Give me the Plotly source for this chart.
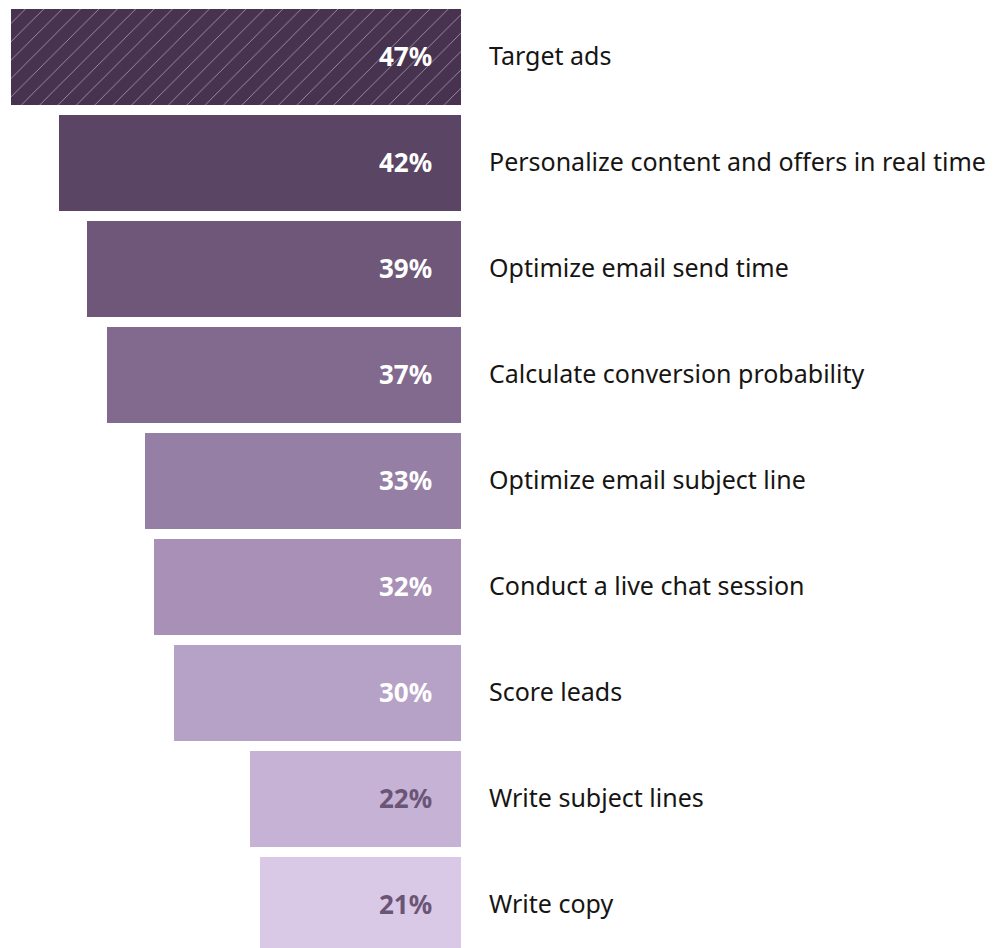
import plotly.graph_objects as go

categories = ["Target ads", "Personalize content and offers in real time",
              "Optimize email send time", "Calculate conversion probability",
              "Optimize email subject line", "Conduct a live chat session",
              "Score leads", "Write subject lines", "Write copy"]
values = [47, 42, 39, 37, 33, 32, 30, 22, 21]
value_labels = ["47%", "42%", "39%", "37%", "33%", "32%", "30%", "22%", "21%"]

bar_colors = ["#47324f", "#5b4565", "#6e5779", "#826a8f", "#967fa5",
              "#a890b6", "#b7a2c7", "#c6b2d5", "#dac9e6"]
label_colors = ["#ffffff"] * 7 + ["#6b5577", "#6b5577"]

ypos = list(range(len(categories)))

fig = go.Figure()
fig.add_trace(go.Bar(
    x=values, y=ypos, orientation="h", width=0.905,
    marker=dict(color=bar_colors, line=dict(width=0),
                pattern=dict(shape=["/"] + [""] * 8, fgcolor="#6e5a7c",
                             fgopacity=0.55, size=13, solidity=0.06)),
    hoverinfo="skip", showlegend=False,
))

for i, (lab, cat) in enumerate(zip(value_labels, categories)):
    fig.add_annotation(x=2.82, y=i, text=f"<b>{lab}</b>", showarrow=False,
                       xanchor="right", yanchor="middle", yshift=1,
                       font=dict(family="Noto Sans", size=26, color=label_colors[i]))
    fig.add_annotation(x=-2.71, y=i, text=cat, showarrow=False,
                       xanchor="left", yanchor="middle", yshift=2,
                       font=dict(family="Noto Sans", size=25, color="#161513"))

fig.update_layout(
    width=996, height=948,
    margin=dict(l=0, r=0, t=0, b=0),
    paper_bgcolor="#ffffff", plot_bgcolor="#ffffff",
    xaxis=dict(range=[47.29, -56.68], visible=False, fixedrange=True),
    yaxis=dict(range=[8.481, -0.462], visible=False, fixedrange=True),
    bargap=0,
)

fig.write_html("out.html")
